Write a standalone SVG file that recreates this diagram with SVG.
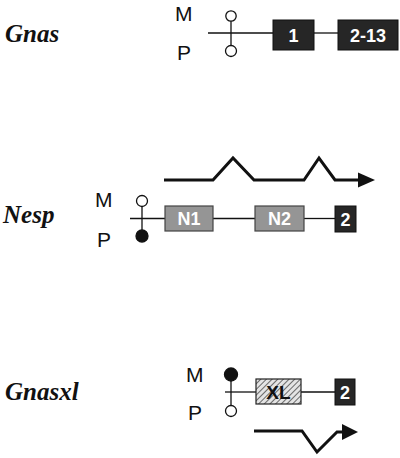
<svg xmlns="http://www.w3.org/2000/svg" width="400" height="458" viewBox="0 0 400 458">
<defs>
<style>
.gene{font-weight:bold;font-style:italic;font-size:25px;fill:#111}
.par{font-family:"Liberation Sans",Arial,sans-serif;font-size:21px;fill:#111}
.lbl{font-family:"Liberation Sans",Arial,sans-serif;font-weight:bold;font-size:18px;text-anchor:middle}
.blk{fill:#262626;stroke:#111;stroke-width:1}
.gry{fill:#959595;stroke:#444;stroke-width:1.2}
.ln{stroke:#111;stroke-width:1.3;fill:none}
.open{fill:#fff;stroke:#111;stroke-width:1.3}
.full{fill:#111;stroke:#111;stroke-width:1.3}
.tx{stroke:#111;stroke-width:3;fill:none;stroke-linejoin:miter}
.head{fill:#111}
</style>
<pattern id="hatch" width="4" height="4" patternUnits="userSpaceOnUse" patternTransform="rotate(45)">
<rect width="4" height="4" fill="#e4e4e4"/>
<line x1="0" y1="0" x2="0" y2="4" stroke="#333" stroke-width="1.4"/>
</pattern>
</defs>

<g id="connectors">
<line class="ln" x1="208" y1="33" x2="273" y2="33"/>
<line class="ln" x1="314" y1="33" x2="338" y2="33"/>
<line class="ln" x1="130" y1="218.5" x2="165" y2="218.5"/>
<line class="ln" x1="213" y1="218.5" x2="255" y2="218.5"/>
<line class="ln" x1="304" y1="218.5" x2="335" y2="218.5"/>
<line class="ln" x1="225" y1="392" x2="256" y2="392"/>
<line class="ln" x1="301" y1="392" x2="335" y2="392"/>
</g>

<g id="gnas">
<text class="gene" font-family="'Liberation Serif', 'Times New Roman', serif" x="5" y="42">Gnas</text>
<text class="par" x="175" y="21">M</text>
<text class="par" x="177" y="60">P</text>
<line class="ln" x1="231" y1="21" x2="231" y2="45"/>
<circle class="open" cx="231" cy="16" r="5.2"/>
<circle class="open" cx="231" cy="51" r="5.5"/>
</g>
<g id="gnas-ex1">
<rect class="blk" x="273" y="20" width="41" height="30"/>
<text class="lbl" x="293.5" y="41.5" fill="#fff">1</text>
</g>
<g id="gnas-ex2-13">
<rect class="blk" x="338" y="20" width="60" height="30"/>
<text class="lbl" x="368" y="41.5" fill="#fff">2-13</text>
</g>

<g id="nesp">
<text class="gene" font-family="'Liberation Serif', 'Times New Roman', serif" x="3" y="223">Nesp</text>
<text class="par" x="95" y="207">M</text>
<text class="par" x="97" y="247">P</text>
<line class="ln" x1="142" y1="207" x2="142" y2="230"/>
<circle class="open" cx="142" cy="201" r="5.5"/>
<circle class="full" cx="142" cy="236" r="6"/>
<path class="tx" d="M164,180 L213,180 L233,158 L254,180 L304,180 L319,158 L335,180 L360,180"/>
<polygon class="head" points="358,172.5 375,180 358,187.5"/>
</g>
<g id="nesp-n1">
<rect class="gry" x="165" y="206" width="48" height="25"/>
<text class="lbl" x="189" y="225" fill="#fff">N1</text>
</g>
<g id="nesp-n2">
<rect class="gry" x="255" y="206" width="49" height="25"/>
<text class="lbl" x="279.5" y="225" fill="#fff">N2</text>
</g>
<g id="nesp-ex2">
<rect class="blk" x="335" y="206" width="21" height="26"/>
<text class="lbl" x="345.5" y="225.5" fill="#fff">2</text>
</g>

<g id="gnasxl">
<text class="gene" font-family="'Liberation Serif', 'Times New Roman', serif" x="5" y="400">Gnasxl</text>
<text class="par" x="186" y="382">M</text>
<text class="par" x="188" y="420">P</text>
<line class="ln" x1="231" y1="381" x2="231" y2="405"/>
<circle class="full" cx="231" cy="374.5" r="6.5"/>
<circle class="open" cx="231" cy="411" r="5.5"/>
<path class="tx" d="M254,431 L302,431 L317,452 L337,432 L344,432"/>
<polygon class="head" points="342,424 358,432 342,440"/>
</g>
<g id="gnasxl-xl">
<rect x="256" y="379" width="45" height="25" fill="url(#hatch)" stroke="#222" stroke-width="1.2"/>
<text class="lbl" x="278.5" y="398.5" fill="#111" style="font-size:19px">XL</text>
</g>
<g id="gnasxl-ex2">
<rect class="blk" x="335" y="379" width="20" height="26"/>
<text class="lbl" x="345" y="398.5" fill="#fff">2</text>
</g>
</svg>
